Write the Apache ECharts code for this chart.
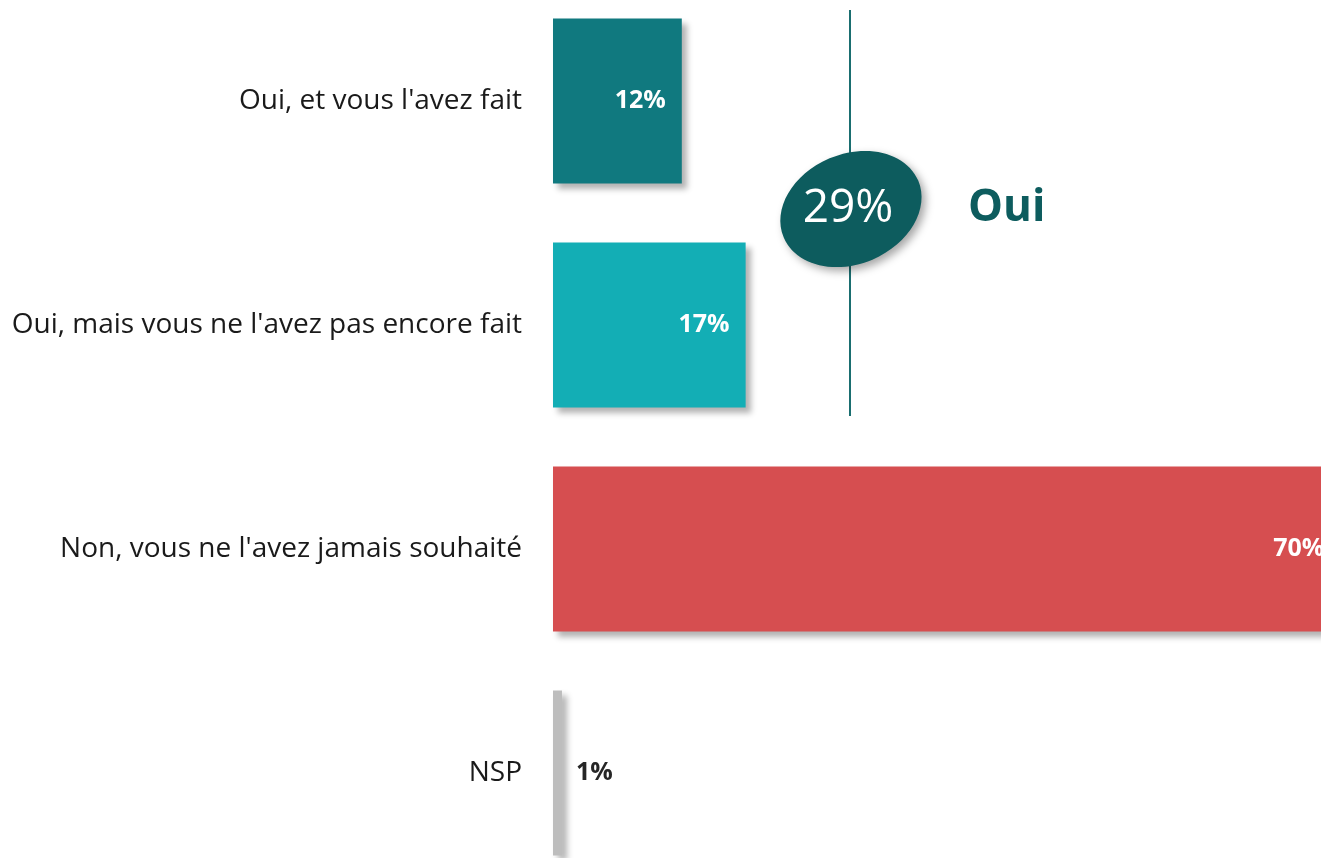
<!DOCTYPE html>
<html>
<head>
<meta charset="utf-8">
<script src="https://cdn.jsdelivr.net/npm/echarts@6/dist/echarts.min.js"></script>
<style>
html,body{margin:0;padding:0;background:#fff;}
#main{width:1321px;height:858px;}
</style>
</head>
<body>
<div id="main"></div>
<script>
// categories / valeurs
var categories = ["Oui, et vous l'avez fait", "Oui, mais vous ne l'avez pas encore fait", "Non, vous ne l'avez jamais souhaité", "NSP"];
var values = [11.5, 17.2, 70.3, 0.8];
var colors = ['#10797f', '#13aeb5', '#d64e50', '#bdbdbd'];
var labelColors = ['#fff', '#fff', '#fff', '#262626'];
var ouiTotal = Math.round(values[0] + values[1]);

var chart = echarts.init(document.getElementById('main'));
var font = '"Open Sans", "DejaVu Sans", sans-serif';

var option = {
    animation: false,
    grid: {
        left: 553,
        top: -11,
        width: 896,
        height: 896,
        containLabel: false,
        outerBoundsMode: 'none'
    },
    xAxis: {
        type: 'value',
        min: 0,
        max: 80,
        show: false
    },
    yAxis: {
        type: 'category',
        inverse: true,
        data: categories,
        axisLine: {show: false},
        axisTick: {show: false},
        axisLabel: {
            margin: 31,
            fontSize: 28,
            color: '#1a1a1a',
            fontFamily: font
        }
    },
    series: [{
        type: 'bar',
        barWidth: 165,
        data: values.map(function (v, i) {
            return {
                value: v,
                itemStyle: {color: colors[i]},
                label: {
                    position: i === 3 ? 'right' : 'insideRight',
                    distance: i === 3 ? 14 : 16,
                    color: labelColors[i]
                }
            };
        }),
        itemStyle: {
            shadowBlur: 6,
            shadowOffsetX: 5,
            shadowOffsetY: 5,
            shadowColor: 'rgba(0,0,0,0.3)'
        },
        label: {
            show: true,
            fontSize: 25,
            fontWeight: 'bold',
            fontFamily: font,
            formatter: function (p) {
                return Math.round(p.value) + '%';
            }
        }
    }],
    graphic: [
        {
            type: 'line',
            shape: {x1: 850, y1: 10, x2: 850, y2: 416},
            style: {stroke: '#1a6e70', lineWidth: 2},
            z: 10
        },
        {
            type: 'ellipse',
            x: 851,
            y: 209,
            rotation: 0.4,
            shape: {cx: 0, cy: 0, rx: 73, ry: 55},
            style: {
                fill: '#0d5c5e',
                shadowBlur: 8,
                shadowOffsetX: 4,
                shadowOffsetY: 4,
                shadowColor: 'rgba(0,0,0,0.35)'
            },
            z: 11
        },
        {
            type: 'text',
            x: 848,
            y: 209,
            style: {
                text: ouiTotal + '%',
                fill: '#fff',
                font: '46px ' + font,
                textAlign: 'center',
                textVerticalAlign: 'middle'
            },
            z: 12
        },
        {
            type: 'text',
            x: 968,
            y: 208,
            style: {
                text: 'Oui',
                fill: '#0d5c5e',
                font: 'bold 44px ' + font,
                textAlign: 'left',
                textVerticalAlign: 'middle'
            },
            z: 12
        }
    ]
};
chart.setOption(option);
</script>
</body>
</html>
